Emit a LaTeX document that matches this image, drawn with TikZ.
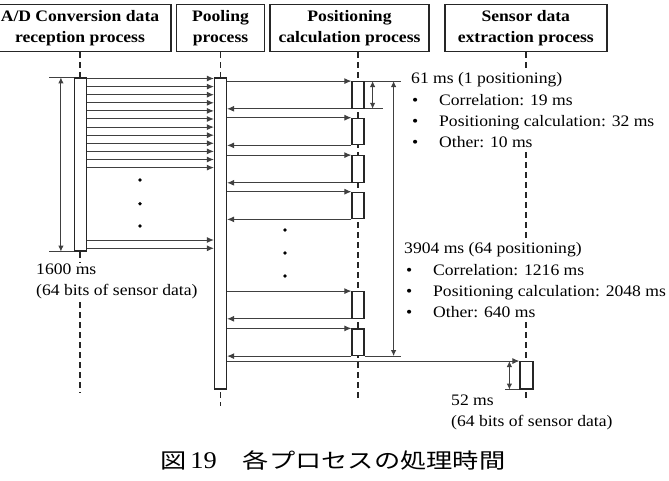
\documentclass[tikz,border=0pt]{standalone}
\usepackage{fontspec}
\setmainfont{Liberation Serif}[FakeStretch=1.1]
\newfontfamily\jpfont{Noto Sans CJK JP}[FakeStretch=1.25]
\usetikzlibrary{arrows.meta, positioning, backgrounds}

\tikzset{
  hdr/.style={draw=black!85, line width=1.4pt, minimum height=47pt, inner sep=0pt,
    align=center, font=\fontsize{16}{20.5}\selectfont\bfseries},
  actbar/.style={draw=black!85, fill=white, line width=1.2pt, minimum width=12pt, inner sep=0pt},
  lifeline/.style={black!85, line width=1.7pt, dash pattern=on 6pt off 4pt},
  msg/.style={black!75, line width=1pt, -{Latex[length=7pt,width=6pt]}},
  dimline/.style={black!75, line width=1pt, {Latex[length=6pt,width=5.5pt]}-{Latex[length=6pt,width=5.5pt]}},
  extline/.style={black!75, line width=1pt},
  note/.style={align=left, inner sep=1pt, font=\fontsize{16}{21.3}\selectfont},
}

\begin{document}
\begin{tikzpicture}[x=1pt, y=-1pt]
  \clip (0,0) rectangle (669,481);
  % process headers
  \node[hdr, minimum width=182pt] (adHdr) at (80,28) {A/D Conversion data\\reception process};
  \node[hdr, minimum width=88pt] (poolHdr) at (220.5,28) {Pooling\\process};
  \node[hdr, minimum width=159pt] (posHdr) at (349.5,28) {Positioning\\calculation process};
  \node[hdr, minimum width=162pt] (senHdr) at (525.8,28) {Sensor data\\extraction process};
  % activation bars
  \node[actbar, minimum height=173pt] (adBar) at (80.5,164.5) {};
  \node[actbar, minimum height=311pt] (poolBar) at (220.5,233.5) {};
  \foreach \t [count=\i] in {81.7,118.3,155.7,192.3,291.7,329}
    \node[actbar, minimum height=26.5pt] (pos\i) at (358,\t+13.25) {};
  \node[actbar, minimum width=13pt, minimum height=27.3pt] (senBar) at (526.5,375.3) {};
  % A/D data to pooling
  \foreach \y in {78.5,86.6,94.7,102.8,110.9,119,127.1,135.2,143.3,151.4,159.5,167.6,240,248.3}
    \draw[msg] (adBar.east |- 0,\y) -- (poolBar.west |- 0,\y);
  \foreach \y in {180,203.7,226}
    \fill (140,\y) circle (1.9pt);
  % pooling <-> positioning
  \foreach \i in {1,...,6} {
    \draw[msg] (poolBar.east |- pos\i.north) -- (pos\i.north west);
    \draw[msg] (pos\i.south west) -- (poolBar.east |- pos\i.south);
  }
  \foreach \y in {230,253,276}
    \fill (285,\y) circle (1.9pt);
  \draw[msg] (poolBar.east |- senBar.north) -- (senBar.north west);
  % dimensions
  \draw[extline] (adBar.north west) -- ++(-25,0);
  \draw[extline] (adBar.south west) -- ++(-25,0);
  \draw[dimline] ([xshift=-13pt]adBar.north west) -- ([xshift=-13pt]adBar.south west);
  \draw[extline] (pos1.north east) -- ++(36,0);
  \draw[extline] (pos1.south east) -- ++(18,0);
  \draw[dimline] ([xshift=8pt]pos1.north east) -- ([xshift=8pt]pos1.south east);
  \draw[extline] (pos6.south east) -- ++(36,0);
  \draw[dimline] ([xshift=29pt]pos1.north east) -- ([xshift=29pt]pos6.south east);
  \draw[extline] (senBar.south west) -- ++(-14,0);
  \draw[dimline] ([xshift=-10pt]senBar.north west) -- ([xshift=-10pt]senBar.south west);
  % notes
  \node[note, fill=white, anchor=north west] (oneNote) at (410,71.5)
    {61 ms (1 positioning)\\
     \makebox[28pt][l]{\hspace{1pt}•}Correlation: 19 ms\\
     \makebox[28pt][l]{\hspace{1pt}•}Positioning calculation: 32 ms\\
     \makebox[28pt][l]{\hspace{1pt}•}Other: 10 ms};
  \node[note, fill=white, anchor=north west] (allNote) at (403,241.5)
    {3904 ms (64 positioning)\\
     \makebox[29pt][l]{\hspace{2pt}•}Correlation: 1216 ms\\
     \makebox[29pt][l]{\hspace{2pt}•}Positioning calculation: 2048 ms\\
     \makebox[29pt][l]{\hspace{2pt}•}Other: 640 ms};
  \node[note, fill=white, anchor=north west] (adNote) at (35,262.6)
    {1600 ms\\(64 bits of sensor data)};
  \node[note, anchor=north west] (senNote) at (450,393.6)
    {52 ms\\(64 bits of sensor data)};
  % lifelines, behind bars and notes
  \begin{scope}[on background layer]
    \draw[lifeline] (adHdr.south) -- (adHdr.south |- 0,393);
    \draw[lifeline] (poolHdr.south) -- ++(0,354);
    \draw[lifeline] (posHdr.south -| pos1) -- (pos1 |- 0,402);
    \draw[lifeline] (senHdr.south) -- (senHdr.south |- 0,402);
  \end{scope}
  % caption
  \node[font=\fontsize{21}{25}\selectfont] (caption) at (333,460)
    {{\jpfont 図}\,{\fontsize{24}{25}\selectfont 19}{\jpfont 　各プロセスの処理時間}};
\end{tikzpicture}
\end{document}
